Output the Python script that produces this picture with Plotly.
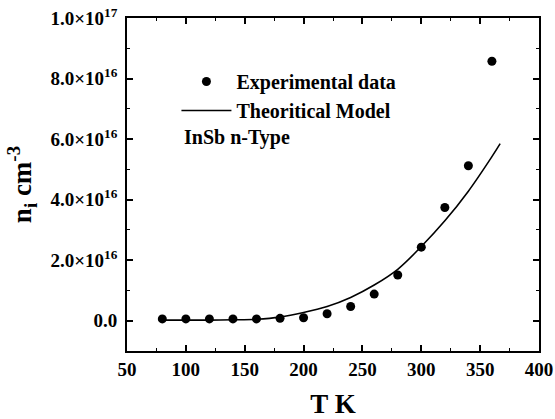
import plotly.graph_objects as go

# Experimental data
T_exp = [80, 100, 120, 140, 160, 180, 200, 220, 240, 260, 280, 300, 320, 340, 360]
n_exp = [0.06e16, 0.06e16, 0.06e16, 0.06e16, 0.06e16, 0.08e16, 0.10e16, 0.23e16, 0.47e16,
         0.88e16, 1.51e16, 2.43e16, 3.74e16, 5.12e16, 8.57e16]

# Theoretical model curve
T_mod = [80, 100, 120, 140, 160, 180, 200, 220, 240, 260, 280, 300, 320, 340, 360, 367]
n_mod = [0.02e16, 0.02e16, 0.02e16, 0.03e16, 0.05e16, 0.12e16, 0.27e16, 0.47e16, 0.77e16,
         1.18e16, 1.70e16, 2.45e16, 3.30e16, 4.28e16, 5.42e16, 5.85e16]

y_tickvals = [0, 2e16, 4e16, 6e16, 8e16, 1e17]
y_ticktext = ["0.0", "2.0×10<sup>16</sup>", "4.0×10<sup>16</sup>", "6.0×10<sup>16</sup>",
              "8.0×10<sup>16</sup>", "1.0×10<sup>17</sup>"]

FONT = "Liberation Serif"

fig = go.Figure()
fig.add_trace(go.Scatter(x=T_exp, y=n_exp, mode="markers", name="Experimental data",
                         marker=dict(color="black", size=9)))
fig.add_trace(go.Scatter(x=T_mod, y=n_mod, mode="lines", name="Theoritical Model",
                         line=dict(color="black", width=1.6, shape="spline")))

fig.add_annotation(x=0.133, y=0.64, xref="paper", yref="paper", xanchor="left", yanchor="middle",
                   text="InSb n-Type", showarrow=False,
                   font=dict(family=FONT, size=20, color="black", weight="bold"))

axis_common = dict(showline=True, linecolor="black", linewidth=1.8, mirror="ticks",
                   ticks="inside", ticklen=6, tickwidth=1.5, tickcolor="black",
                   showgrid=False, zeroline=False, automargin=False,
                   tickfont=dict(family=FONT, size=19, color="black", weight="bold"))

fig.update_xaxes(range=[50, 400], dtick=50, tick0=50,
                 minor=dict(ticks="inside", dtick=25, ticklen=3, tickcolor="black", tickwidth=1.2),
                 title=dict(text="T K", font=dict(family=FONT, size=27, color="black", weight="bold"),
                            standoff=22),
                 **axis_common)
fig.update_yaxes(range=[-1e16, 1e17], tickvals=y_tickvals, ticktext=y_ticktext,
                 minor=dict(ticks="inside", tickvals=[-1e16, 1e16, 3e16, 5e16, 7e16, 9e16],
                            ticklen=3, tickcolor="black", tickwidth=1.2),
                 ticklabelstandoff=4,
                 title=dict(text="n<sub>i</sub> cm<sup>-3</sup>",
                            font=dict(family=FONT, size=27, color="black", weight="bold"),
                            standoff=11),
                 **axis_common)

fig.update_layout(width=555, height=419, margin=dict(l=127, r=16, t=18, b=68, autoexpand=False),
                  paper_bgcolor="white", plot_bgcolor="white",
                  showlegend=True,
                  legend=dict(x=0.12, y=0.868, xanchor="left", yanchor="top", itemwidth=50,
                              bgcolor="rgba(0,0,0,0)", tracegroupgap=0,
                              font=dict(family=FONT, size=20, color="black", weight="bold")))

fig.write_html("out.html")
